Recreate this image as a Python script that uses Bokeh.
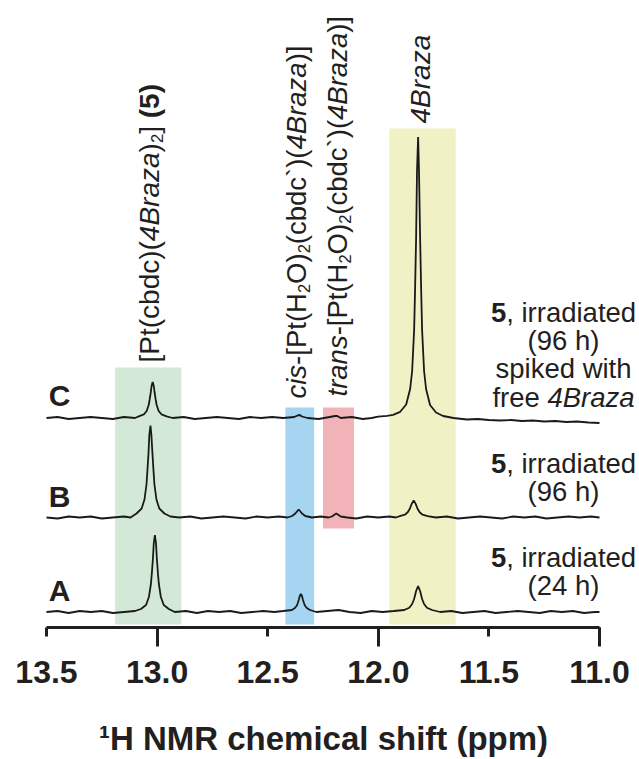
import math
from bokeh.plotting import figure
from bokeh.models import Range1d, Label, FixedTicker, LinearAxis
from bokeh.embed import file_html
from bokeh.resources import INLINE

# ---------------- data ----------------
TICKS = [13.5, 13.0, 12.5, 12.0, 11.5, 11.0]
TICK_LABELS = ["13.5", "13.0", "12.5", "12.0", "11.5", "11.0"]
LONG_TICKS = [13.0, 12.0, 11.0]

# spectrum A: irradiated 24 h  (ppm, intensity)
spec_A = [(13.50,0),(13.45,1),(13.40,-1),(13.35,1),(13.30,0),(13.25,1),(13.20,-1),(13.15,0),(13.10,1),
          (13.073,3),(13.050,7),(13.037,15),(13.028,28),(13.024,38),(13.019,53),(13.015,69),(13.010,77),
          (13.005,69),(13.001,53),(12.996,38),(12.992,28),(12.983,15),(12.970,7),(12.947,3),
          (12.92,0),(12.87,1),(12.82,-1),(12.77,1),(12.72,0),(12.67,1),(12.62,-1),(12.57,0),(12.52,1),(12.47,0),(12.43,1),
          (12.391,2),(12.377,4),(12.368,6.5),(12.364,9),(12.359,12.5),(12.355,16),(12.350,18),(12.345,16),
          (12.341,12.5),(12.336,9),(12.332,6.5),(12.323,4),(12.309,2),
          (12.28,0),(12.23,1),(12.18,2),(12.13,0),(12.08,-1),(12.03,1),(11.98,0),(11.93,1),
          (11.883,2),(11.860,4.3),(11.847,8),(11.838,13),(11.829,21),(11.820,26),(11.811,21),(11.802,13),
          (11.793,8),(11.780,4.3),(11.757,2),
          (11.72,0),(11.67,1),(11.62,-1),(11.57,0),(11.52,1),(11.47,-1),(11.42,0),(11.37,1),(11.32,0),
          (11.27,-1),(11.22,1),(11.17,0),(11.12,1),(11.07,-1),(11.02,0),(11.00,0)]

# spectrum B: irradiated 96 h
spec_B = [(13.50,0),(13.45,-1),(13.40,1),(13.35,0),(13.30,1),(13.25,-1),(13.20,0),(13.15,1),(13.12,0),
          (13.093,4),(13.070,9),(13.057,18),(13.048,33),(13.044,46),(13.039,64),(13.035,83),(13.030,92),
          (13.026,83),(13.021,64),(13.016,46),(13.012,33),(13.003,18),(12.990,9),(12.967,4),
          (12.94,1),(12.90,0),(12.85,1),(12.80,-1),(12.75,0),(12.70,1),(12.65,0),(12.60,-1),(12.55,1),(12.50,0),
          (12.45,1),(12.41,0),
          (12.39,1.5),(12.375,4),(12.366,6.5),(12.360,8),(12.354,6.5),(12.345,4),(12.33,1.5),
          (12.30,0),(12.26,1),(12.225,0),
          (12.21,1),(12.197,3),(12.190,4),(12.183,3),(12.17,1),
          (12.14,0),(12.10,-1),(12.05,1),(12.00,0),(11.95,1),(11.92,0),
          (11.903,1.3),(11.880,2.8),(11.867,5.2),(11.858,8.5),(11.849,13.6),(11.840,17),(11.831,13.6),
          (11.822,8.5),(11.813,5.2),(11.800,2.8),(11.777,1.3),
          (11.74,0),(11.69,1),(11.64,-1),(11.59,0),(11.54,1),(11.49,0),(11.44,-1),(11.39,1),(11.34,0),
          (11.29,1),(11.24,-1),(11.19,0),(11.14,1),(11.09,0),(11.04,1),(11.00,0)]

# spectrum C: irradiated 96 h, spiked with free 4Braza
spec_C = [(13.50,0),(13.45,1),(13.40,-1),(13.35,0),(13.30,1),(13.25,0),(13.20,-1),(13.15,1),(13.10,0),
          (13.083,1.6),(13.060,3.6),(13.047,7),(13.038,13),(13.034,18),(13.029,25),(13.025,32),(13.020,36),
          (13.015,32),(13.011,25),(13.006,18),(13.002,13),(12.993,7),(12.980,3.6),(12.957,1.6),
          (12.93,0),(12.88,1),(12.83,-1),(12.78,0),(12.73,1),(12.68,0),(12.63,-1),(12.58,1),(12.53,0),
          (12.48,1),(12.43,0),(12.38,1),(12.365,2.5),(12.355,3),(12.345,1.5),(12.32,0),(12.27,-1),
          (12.22,1),(12.195,2),(12.185,2),(12.17,0),(12.12,1),(12.07,-1),(12.03,0),
          (12.001,1.3),(11.96,2.2),(11.933,3.2),(11.901,6.2),(11.874,13.5),(11.856,29),(11.847,47),
          (11.838,88),(11.834,126),(11.829,181),(11.825,247),(11.820,281),(11.816,247),(11.811,181),
          (11.806,126),(11.802,88),(11.793,47),(11.784,29),(11.766,13),(11.739,5.5),(11.707,2),
          (11.66,0),(11.60,-1.5),(11.55,-1),(11.50,-2),(11.45,-2.5),(11.40,-2),(11.35,-3),(11.30,-2.5),
          (11.25,-3.5),(11.20,-3),(11.15,-4),(11.10,-3.5),(11.05,-4.5),(11.00,-5)]

# highlighted regions (ppm) and their vertical extent (intensity units)
band_names = ["Pt(cbdc)(4Braza)2", "cis", "trans", "4Braza"]
band_hi_ppm = [13.19, 12.42, 12.25, 11.95]
band_lo_ppm = [12.89, 12.29, 12.11, 11.65]
band_bottom = [3, 3, 99, 3]
band_top = [260, 220, 220, 499]

# ---------------- style / layout ----------------
FONT = "Liberation Sans"
INK = "#231f20"
BAND_COLORS = ["#d4e8d8", "#a5d5f1", "#f2b3b8", "#f0f2c6"]
TRACE_OFFSETS = {"A": 15.5, "B": 110, "C": 209.5}
BASE_FIX = 0.36  # empirical baseline correction (fraction of font size)

W_REG = {' ':278,'(':333,')':333,'[':278,']':278,',':278,'-':333,'.':278,'`':333,
         'A':667,'B':667,'C':722,'H':722,'M':833,'N':722,'O':778,'P':667,'R':722,
         'a':556,'b':556,'c':500,'d':556,'e':556,'f':278,'h':556,'i':222,'k':500,'l':222,
         'm':833,'n':556,'p':556,'r':333,'s':500,'t':278,'w':722,'z':500}
W_BOLD = {' ':278,'(':333,')':333,',':278,'.':278,'a':556,'c':556,'d':611,'e':556,'f':333,
          'h':611,'i':278,'l':278,'m':889,'p':611,'r':389,'s':556,'t':333}
for d in "0123456789":
    W_REG[d] = 556
    W_BOLD[d] = 556


def text_w(s, style, size):
    tab = W_BOLD if style == "bold" else W_REG
    return sum(tab.get(ch, 556) for ch in s) * size / 1000.0


PPM_PER_PX = 2.5 / 553.0


def X(px):  # page pixel -> ppm
    return 13.5 - (px - 46) * PPM_PER_PX


def Y(py):  # page pixel -> intensity units (1 unit = 1 px)
    return 627 - py


W, H = 639, 759
p = figure(width=W, height=H, output_backend="svg", toolbar_location=None,
           x_range=Range1d(X(0), X(W)), y_range=Range1d(Y(H), Y(0)),
           x_axis_location=None, y_axis_location=None, min_border=0,
           outline_line_color=None, background_fill_color="white", border_fill_color="white")
p.grid.visible = False

# bands
p.quad(left=band_hi_ppm, right=band_lo_ppm, bottom=band_bottom, top=band_top,
       fill_color=BAND_COLORS, line_color=None)

# traces
for name, spec in (("A", spec_A), ("B", spec_B), ("C", spec_C)):
    xs = [a for a, b in spec]
    ys = [b + TRACE_OFFSETS[name] for a, b in spec]
    p.line(xs, ys, line_color="#1a1a1a", line_width=1.8)

# axis (fixed at intensity 0, spanning 13.5 .. 11.0)
ax = LinearAxis(fixed_location=0, bounds=(11.0, 13.5))
ax.ticker = FixedTicker(ticks=TICKS, minor_ticks=LONG_TICKS)
ax.major_label_overrides = {t: l for t, l in zip(TICKS, TICK_LABELS)}
ax.axis_line_width = 3
ax.axis_line_color = INK
ax.major_tick_line_width = 3
ax.minor_tick_line_width = 3
ax.major_tick_line_color = INK
ax.minor_tick_line_color = INK
ax.major_tick_in = 0
ax.major_tick_out = 9
ax.minor_tick_in = 0
ax.minor_tick_out = 19
ax.major_label_standoff = 14
ax.major_label_text_font = FONT
ax.major_label_text_font_size = "32px"
ax.major_label_text_font_style = "bold"
ax.major_label_text_color = INK
p.add_layout(ax, "below")


def hlabel(px, py, text, size, style="normal", align="left"):
    p.add_layout(Label(x=X(px), y=Y(py) + BASE_FIX * size, text=text, text_font=FONT,
                       text_font_size=f"{size}px", text_font_style=style, text_color=INK,
                       text_align=align, text_baseline="alphabetic"))


def rlabel(px, y_data, text, size, style="normal"):
    p.add_layout(Label(x=X(px - BASE_FIX * size), y=y_data, text=text, text_font=FONT,
                       text_font_size=f"{size}px", text_font_style=style, text_color=INK,
                       text_align="left", text_baseline="alphabetic", angle=math.pi / 2))

# axis title
hlabel(323, 750, "\u00b9H NMR chemical shift (ppm)", 33, "bold", align="center")

# trace letters
for name, py in (("C", 406), ("B", 507), ("A", 601)):
    hlabel(59, py, name, 30, "bold", align="center")

# vertical compound labels: (segments, baseline page-x, start page-y, font size)
SUB = 0.6
def vlabel(segments, bx, start_y, rs):
    cum = 0.0
    for txt, style in segments:
        if style == "sub":
            size = round(rs * SUB, 1)
            rlabel(bx + 0.14 * rs, Y(start_y) + cum, txt, size)
            cum += text_w(txt, "normal", size)
        else:
            rlabel(bx, Y(start_y) + cum, txt, rs, style)
            cum += text_w(txt, style, rs)

vlabel([("[Pt(cbdc)(", "normal"), ("4Braza", "italic"), (")", "normal"), ("2", "sub"),
        ("] ", "normal"), ("(5)", "bold")], 159, 362, 28)
vlabel([("cis", "italic"), ("-[Pt(H", "normal"), ("2", "sub"), ("O)", "normal"), ("2", "sub"),
        ("(cbdc`)(", "normal"), ("4Braza", "italic"), (")]", "normal")], 306, 398, 27.5)
vlabel([("trans", "italic"), ("-[Pt(H", "normal"), ("2", "sub"), ("O)", "normal"), ("2", "sub"),
        ("(cbdc`)(", "normal"), ("4Braza", "italic"), (")]", "normal")], 347, 396, 27.5)
vlabel([("4Braza", "italic")], 430, 123, 28)

# right-hand sample descriptions: lines of segments with page baseline y
RSZ = 27.5
CX = 563
right_lines = [
    ([("5", "bold"), (", irradiated", "normal")], 322),
    ([("(96 h)", "normal")], 350),
    ([("spiked with", "normal")], 378),
    ([("free ", "normal"), ("4Braza", "italic")], 407),
    ([("5", "bold"), (", irradiated", "normal")], 473),
    ([("(96 h)", "normal")], 501),
    ([("5", "bold"), (", irradiated", "normal")], 567),
    ([("(24 h)", "normal")], 595),
]
for segs, by in right_lines:
    total = sum(text_w(t, s, RSZ) for t, s in segs)
    x0 = CX - total / 2
    for t, s in segs:
        hlabel(x0, by, t, RSZ, s)
        x0 += text_w(t, s, RSZ)

open("out.html", "w").write(file_html(p, INLINE))
